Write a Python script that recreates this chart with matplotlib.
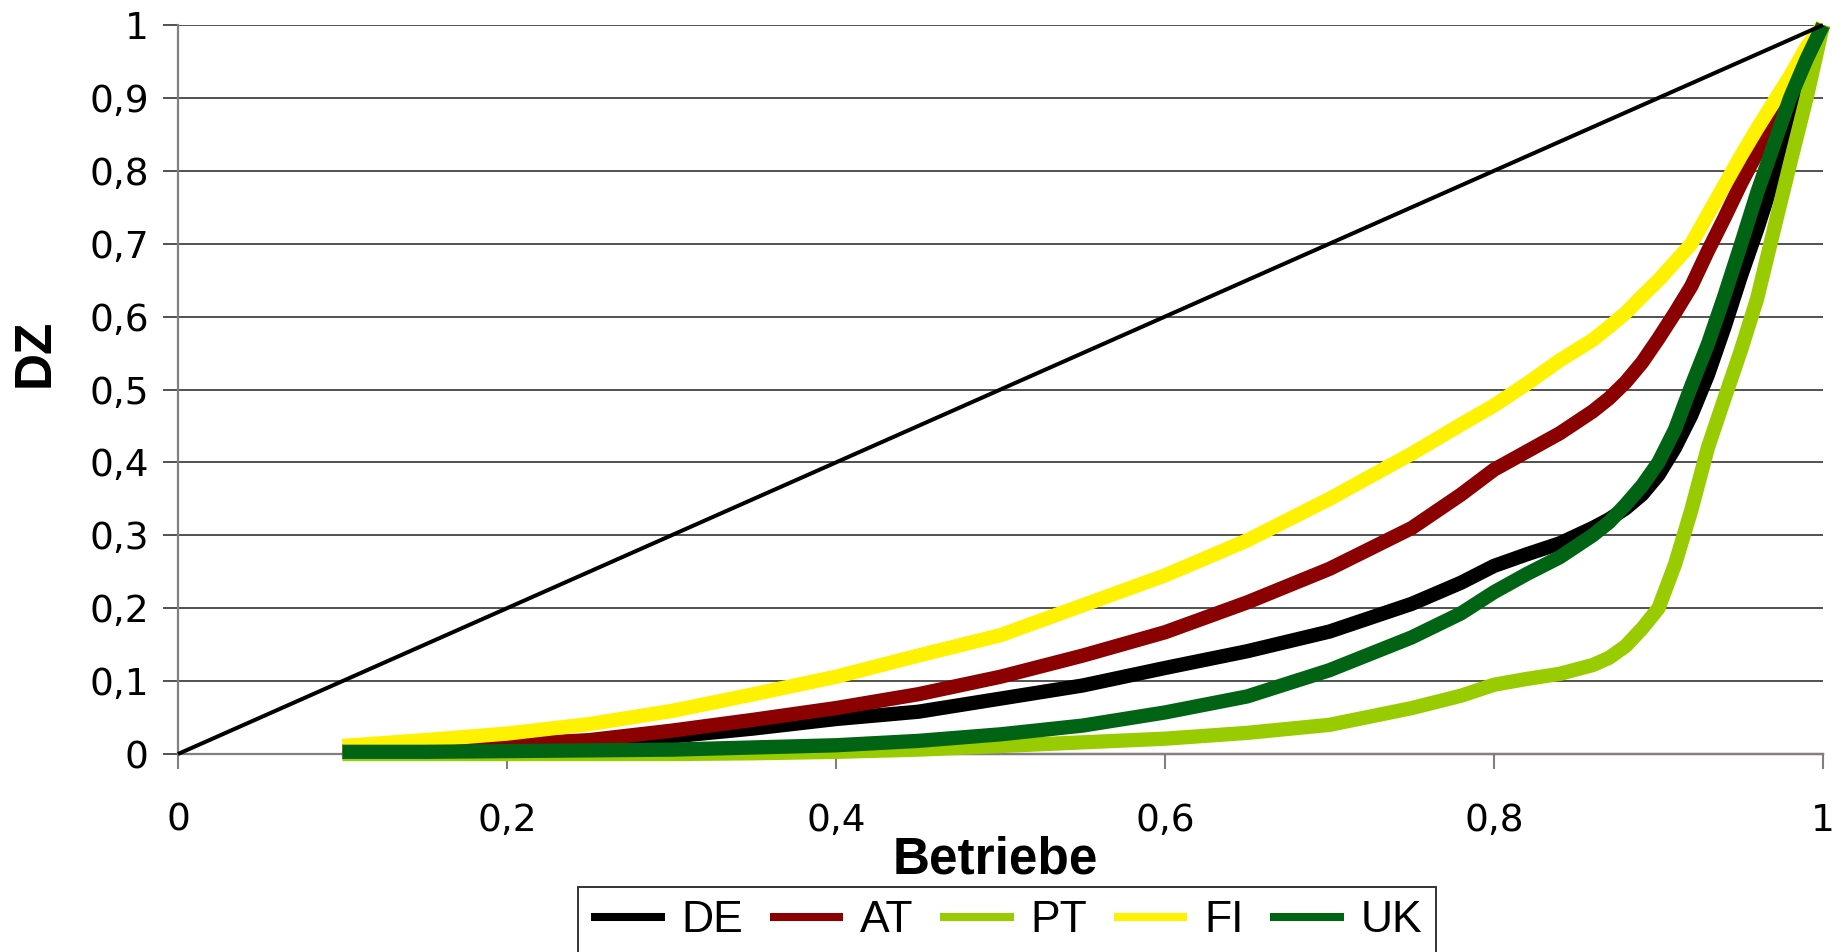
import numpy as np
from matplotlib import pyplot as plt

# shares of farms (x) and direct payments (y)
x_share = [0.1, 0.15, 0.2, 0.25, 0.3, 0.35, 0.4, 0.45, 0.5, 0.55, 0.6, 0.65, 0.7, 0.75,
           0.78, 0.8, 0.82, 0.84, 0.86, 0.87, 0.88, 0.89, 0.9, 0.91, 0.92, 0.93, 0.94,
           0.95, 0.96, 0.97, 0.98, 0.99, 1.0]

de = [0.002, 0.005, 0.009, 0.016, 0.024, 0.035, 0.048, 0.058, 0.076, 0.094, 0.118, 0.141, 0.168, 0.206,
      0.235, 0.258, 0.274, 0.289, 0.31, 0.322, 0.337, 0.356, 0.383, 0.42, 0.465, 0.52, 0.585,
      0.655, 0.72, 0.79, 0.86, 0.93, 1.0]
at = [0.004, 0.008, 0.013, 0.019, 0.032, 0.047, 0.063, 0.082, 0.106, 0.135, 0.167, 0.208, 0.254, 0.31,
      0.356, 0.39, 0.415, 0.44, 0.47, 0.488, 0.51, 0.537, 0.57, 0.605, 0.642, 0.69, 0.735,
      0.782, 0.825, 0.87, 0.916, 0.958, 1.0]
pt = [0.0, 0.0, 0.0, 0.0, 0.0, 0.001, 0.003, 0.006, 0.011, 0.016, 0.021, 0.029, 0.04, 0.063,
      0.08, 0.095, 0.103, 0.11, 0.122, 0.132, 0.148, 0.172, 0.2, 0.26, 0.335, 0.42, 0.487,
      0.553, 0.625, 0.718, 0.81, 0.9, 1.0]
fi = [0.011, 0.019, 0.028, 0.041, 0.059, 0.082, 0.106, 0.135, 0.163, 0.204, 0.245, 0.293, 0.35, 0.412,
      0.452, 0.478, 0.508, 0.54, 0.568, 0.586, 0.605, 0.628, 0.65, 0.675, 0.70, 0.74, 0.78,
      0.82, 0.858, 0.894, 0.93, 0.97, 1.0]
uk = [0.003, 0.003, 0.004, 0.005, 0.006, 0.009, 0.012, 0.018, 0.027, 0.039, 0.057, 0.079, 0.115, 0.16,
      0.193, 0.222, 0.247, 0.27, 0.30, 0.318, 0.342, 0.368, 0.40, 0.445, 0.505, 0.562, 0.628,
      0.698, 0.77, 0.835, 0.90, 0.953, 1.0]

series_names = ["DE", "AT", "PT", "FI", "UK"]
series_colors = ["#000000", "#8b0000", "#99cc00", "#fff200", "#006414"]

diag_x = [0, 1]
diag_y = [0, 1]
floor_x = [0.1, 1]
floor_y = [0, 0]

ticks = [0, 0.2, 0.4, 0.6, 0.8, 1]
yticks = [0, 0.1, 0.2, 0.3, 0.4, 0.5, 0.6, 0.7, 0.8, 0.9, 1]

def comma(v):
    return ("%g" % v).replace(".", ",")

fig = plt.figure(figsize=(18.43, 9.52), dpi=100)
ax = fig.add_axes([0.09658, 0.20798, 0.89257, 0.76576])

ax.plot(floor_x, floor_y, color="#800080", lw=1.6, zorder=2, clip_on=False)

for vals, name, col in zip([de, at, pt, fi, uk], series_names, series_colors):
    ax.plot(x_share, vals, color=col, lw=10.3, label=name, solid_capstyle="butt",
            solid_joinstyle="round", zorder=3, clip_on=False)

ax.plot(diag_x, diag_y, color="black", lw=2.9, zorder=4, clip_on=False,
        solid_capstyle="butt")

ax.set_xlim(0, 1)
ax.set_ylim(0, 1)
ax.set_xticks(ticks)
ax.set_xticklabels([comma(t) for t in ticks])
ax.set_yticks(yticks)
ax.set_yticklabels([comma(t) for t in yticks])

ax.yaxis.grid(True, color="#222222", lw=1.1, zorder=1)
ax.set_axisbelow(True)
for side in ["top", "right"]:
    ax.spines[side].set_visible(False)
ax.spines["left"].set_color("#808080")
ax.spines["left"].set_linewidth(1.6)
ax.spines["bottom"].set_color("#808080")
ax.spines["bottom"].set_linewidth(1.6)

ax.tick_params(axis="x", length=11, width=1.5, color="#808080", pad=24,
               labelsize=27)
ax.tick_params(axis="y", length=11, width=1.1, color="#222222", pad=10,
               labelsize=27)
for lab in ax.get_xticklabels() + ax.get_yticklabels():
    lab.set_fontfamily("DejaVu Sans")
    lab.set_fontweight("normal")

ax.set_xlabel("Betriebe", fontsize=37, fontweight="bold", family="Liberation Sans")
ax.xaxis.set_label_coords(0.497, -0.145)
ax.xaxis.label.set_va("center")
ax.set_ylabel("DZ", fontsize=37, fontweight="bold", family="Liberation Sans")
ax.yaxis.set_label_coords(-0.087, 0.551)
ax.yaxis.label.set_va("center")

leg = ax.legend(loc="upper left", bbox_to_anchor=(578 / 1843, 1 - 887 / 952),
                bbox_transform=fig.transFigure, ncol=5, frameon=True, fancybox=False,
                prop={"family": "Liberation Sans", "size": 32},
                handlelength=1.65, handletextpad=0.38, columnspacing=0.6,
                borderpad=0.3, borderaxespad=0)
leg.get_frame().set_edgecolor("black")
leg.get_frame().set_linewidth(1.4)
for h in leg.get_lines():
    h.set_linewidth(5.8)

fig.savefig("out.png", dpi=100)
